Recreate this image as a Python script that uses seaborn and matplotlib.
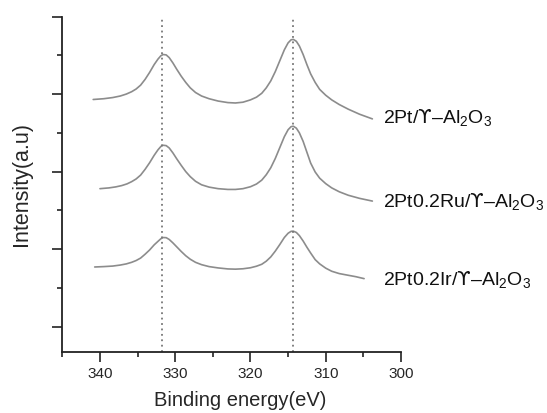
import numpy as np
import pandas as pd
import seaborn as sns
import matplotlib.pyplot as plt
from matplotlib.ticker import MultipleLocator

# values (binding energy in eV, offset intensity in a.u.)
be_top = [340.9, 339.5, 338.3, 337.3, 336.5, 335.8, 335.2, 334.6, 334.0, 333.4, 332.8, 332.3,
          331.9, 331.6, 331.2, 330.8, 330.3, 329.8, 329.2, 328.6, 328.0, 327.3, 326.5, 325.5,
          324.3, 323.0, 322.0, 321.0, 320.0, 319.2, 318.5, 317.9, 317.3, 316.7, 316.1, 315.5,
          315.0, 314.6, 314.3, 313.9, 313.5, 313.0, 312.5, 312.0, 311.4, 310.8, 310.0, 309.2,
          308.2, 307.0, 305.5, 303.8]
i_top = [2.930, 2.940, 2.955, 2.975, 3.000, 3.030, 3.065, 3.115, 3.190, 3.280, 3.380, 3.450,
         3.495, 3.510, 3.505, 3.470, 3.400, 3.320, 3.230, 3.150, 3.080, 3.020, 2.975, 2.940,
         2.910, 2.890, 2.885, 2.895, 2.925, 2.960, 3.010, 3.080, 3.170, 3.290, 3.430, 3.570,
         3.660, 3.700, 3.705, 3.680, 3.620, 3.510, 3.380, 3.260, 3.150, 3.060, 2.985, 2.925,
         2.865, 2.805, 2.740, 2.680]

be_mid = [340.0, 338.8, 337.9, 337.1, 336.4, 335.8, 335.2, 334.6, 334.0, 333.4, 332.8, 332.3,
          331.9, 331.6, 331.2, 330.8, 330.3, 329.8, 329.2, 328.6, 328.0, 327.3, 326.5, 325.5,
          324.3, 323.0, 322.0, 321.0, 320.0, 319.2, 318.5, 317.9, 317.3, 316.7, 316.1, 315.5,
          315.0, 314.6, 314.3, 313.9, 313.5, 313.0, 312.5, 312.0, 311.4, 310.8, 310.0, 309.2,
          308.2, 307.0, 305.5, 303.8]
i_mid = [1.780, 1.790, 1.803, 1.820, 1.842, 1.870, 1.905, 1.955, 2.030, 2.115, 2.210, 2.280,
         2.325, 2.340, 2.335, 2.305, 2.240, 2.165, 2.080, 2.000, 1.935, 1.875, 1.830, 1.800,
         1.780, 1.770, 1.770, 1.780, 1.805, 1.840, 1.890, 1.960, 2.050, 2.170, 2.310, 2.450,
         2.540, 2.580, 2.585, 2.560, 2.500, 2.390, 2.250, 2.110, 1.995, 1.915, 1.845, 1.790,
         1.740, 1.695, 1.655, 1.620]

be_bot = [340.7, 339.5, 338.3, 337.3, 336.5, 335.8, 335.2, 334.6, 334.0, 333.4, 332.8, 332.3,
          331.9, 331.6, 331.2, 330.8, 330.3, 329.8, 329.2, 328.6, 328.0, 327.3, 326.5, 325.5,
          324.3, 323.0, 322.0, 321.0, 320.0, 319.2, 318.5, 317.9, 317.3, 316.7, 316.1, 315.5,
          315.0, 314.6, 314.3, 313.9, 313.5, 313.0, 312.5, 312.0, 311.4, 310.8, 310.0, 309.2,
          308.2, 307.0, 306.0, 304.9]
i_bot = [0.770, 0.775, 0.782, 0.795, 0.810, 0.830, 0.853, 0.885, 0.935, 0.990, 1.055, 1.100,
         1.135, 1.150, 1.148, 1.125, 1.080, 1.030, 0.970, 0.915, 0.870, 0.830, 0.800, 0.775,
         0.758, 0.745, 0.742, 0.747, 0.760, 0.780, 0.805, 0.845, 0.900, 0.975, 1.060, 1.150,
         1.205, 1.230, 1.232, 1.215, 1.175, 1.105, 1.025, 0.950, 0.865, 0.810, 0.755, 0.715,
         0.685, 0.663, 0.645, 0.620]

labels = [r"2Pt/$\mathsf{ϒ}$–Al$_2$O$_3$", r"2Pt0.2Ru/$\mathsf{ϒ}$–Al$_2$O$_3$",
          r"2Pt0.2Ir/$\mathsf{ϒ}$–Al$_2$O$_3$"]
label_y = [2.69, 1.61, 0.60]
ref_lines = [331.8, 314.4]

sns.set_style("ticks")
plt.rcParams['font.family'] = ['Liberation Sans', 'DejaVu Sans']
plt.rcParams['mathtext.fontset'] = 'custom'
plt.rcParams['mathtext.rm'] = 'Liberation Sans'
plt.rcParams['mathtext.sf'] = 'DejaVu Sans'

fig = plt.figure(figsize=(5.47, 4.13), dpi=100)
ax = fig.add_axes([0.114, 0.147, 0.619, 0.813])

for be, inten in [(be_top, i_top), (be_mid, i_mid), (be_bot, i_bot)]:
    df = pd.DataFrame({"be": be, "i": inten})
    sns.lineplot(data=df, x="be", y="i", color="#8c8c8c", linewidth=1.2, ax=ax,
                 sort=False, estimator=None)

for xv in ref_lines:
    ax.axvline(xv, color="#777777", linestyle=(0, (1.0, 2.0)), linewidth=1.3)

for lab, yv in zip(labels, label_y):
    ax.text(302.4, yv, lab, fontsize=14, va="center", ha="left", color="#111111")

ax.set_xlim(345, 300)
ax.set_ylim(-0.33, 4.0)
ax.xaxis.set_major_locator(MultipleLocator(10))
ax.xaxis.set_minor_locator(MultipleLocator(5))
ax.yaxis.set_major_locator(MultipleLocator(1))
ax.yaxis.set_minor_locator(MultipleLocator(0.5))
ax.tick_params(axis="both", which="major", length=7, width=1.2, color="#222222",
               labelsize=11, direction="out")
ax.tick_params(axis="both", which="minor", length=3.5, width=1.2, color="#222222",
               direction="out")
ax.tick_params(axis="y", which="both", labelleft=False)

for side in ["top", "right"]:
    ax.spines[side].set_visible(False)
for side in ["left", "bottom"]:
    ax.spines[side].set_linewidth(1.3)
    ax.spines[side].set_color("#222222")

ax.set_xlabel("Binding energy(eV)", fontsize=14.5)
ax.set_ylabel("Intensity(a.u)", fontsize=15.5)
ax.xaxis.set_label_coords(0.525, -0.115)
ax.yaxis.set_label_coords(-0.09, 0.5)

fig.savefig("out.png", dpi=100)
